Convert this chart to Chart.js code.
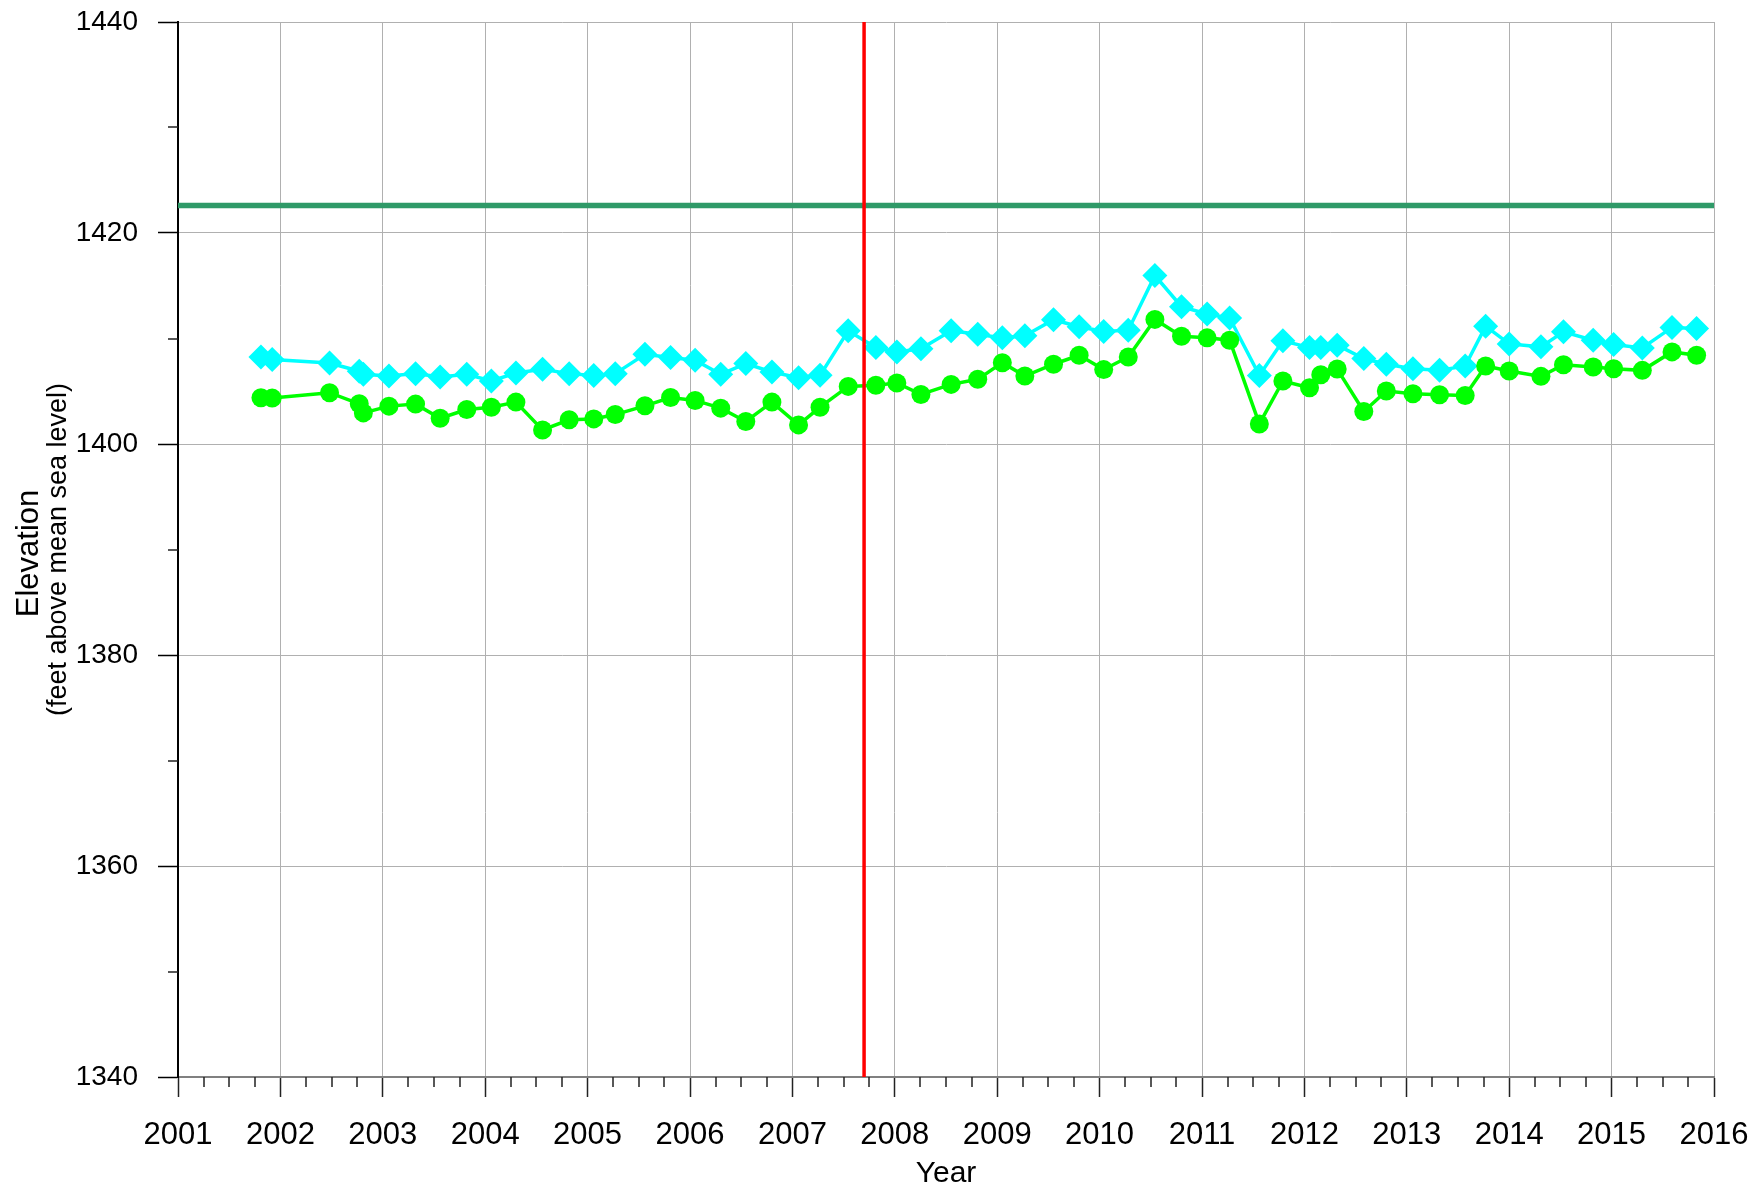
<!DOCTYPE html>
<html>
<head>
<meta charset="utf-8">
<script src="https://cdn.jsdelivr.net/npm/chart.js@4.4.0/dist/chart.umd.min.js"></script>
<style>
html, body { margin: 0; padding: 0; background: #fff; }
#wrap { width: 1754px; height: 1186px; }
</style>
</head>
<body>
<div id="wrap"><canvas id="graph"></canvas></div>
<script>
// sample dates (decimal years), shared by both wells
var years = [
    2001.81, 2001.92, 2002.48, 2002.77, 2002.81, 2003.06, 2003.32, 2003.56, 2003.82, 2004.06,
    2004.30, 2004.56, 2004.82, 2005.06, 2005.27, 2005.56, 2005.81, 2006.05, 2006.30, 2006.545,
    2006.80, 2007.06, 2007.27, 2007.545, 2007.815, 2008.02, 2008.255, 2008.55, 2008.81, 2009.05,
    2009.27, 2009.55, 2009.80, 2010.04, 2010.28, 2010.54, 2010.80, 2011.05, 2011.27, 2011.56,
    2011.79, 2012.05, 2012.16, 2012.32, 2012.58, 2012.80, 2013.06, 2013.32, 2013.57, 2013.77,
    2014.00, 2014.31, 2014.53, 2014.82, 2015.02, 2015.30, 2015.59, 2015.83
];

// cyan diamonds
var cyanLevels = [
    1408.25, 1408.0, 1407.68, 1406.9, 1406.6, 1406.44, 1406.67, 1406.35, 1406.6, 1405.97,
    1406.73, 1407.08, 1406.67, 1406.5, 1406.67, 1408.5, 1408.19, 1407.94, 1406.6, 1407.62,
    1406.83, 1406.29, 1406.51, 1410.73, 1409.14, 1408.73, 1409.02, 1410.73, 1410.41, 1410.06,
    1410.25, 1411.78, 1411.11, 1410.67, 1410.79, 1415.97, 1413.02, 1412.32, 1411.94, 1406.5,
    1409.78, 1409.14, 1409.14, 1409.37, 1408.10, 1407.56, 1407.14, 1406.98, 1407.40, 1411.17,
    1409.49, 1409.21, 1410.63, 1409.84, 1409.43, 1409.11, 1411.05, 1410.95
];

// green circles
var greenLevels = [
    1404.38, 1404.35, 1404.86, 1403.81, 1402.95, 1403.59, 1403.78, 1402.44, 1403.27, 1403.49,
    1403.97, 1401.33, 1402.29, 1402.38, 1402.79, 1403.62, 1404.41, 1404.13, 1403.4, 1402.13,
    1403.97, 1401.81, 1403.49, 1405.46, 1405.56, 1405.78, 1404.70, 1405.65, 1406.13, 1407.71,
    1406.44, 1407.56, 1408.41, 1407.05, 1408.25, 1411.81, 1410.22, 1410.06, 1409.84, 1401.90,
    1405.97, 1405.33, 1406.57, 1407.11, 1403.08, 1405.02, 1404.76, 1404.67, 1404.60, 1407.40,
    1406.92, 1406.41, 1407.52, 1407.30, 1407.14, 1406.98, 1408.73, 1408.41
];

// reference elevation (horizontal) and event date (vertical)
var refLevel = 1422.6;
var refSpan = [2001, 2016];
var eventYear = 2007.7;
var eventSpan = [1340, 1440];

var yearMin = 2001, yearMax = 2016;
var elevMin = 1340, elevMax = 1440;

var FONT = "'Liberation Sans', Arial, sans-serif";

function toPoints(xs, ys) {
    var out = [];
    for (var i = 0; i < xs.length; i++) out.push({ x: xs[i], y: ys[i] });
    return out;
}

// minor tick marks (quarter years, 10 ft)
var minorTicks = {
    id: 'minorTicks',
    afterDraw: function (chart) {
        var ctx = chart.ctx;
        var xs = chart.scales.x, ys = chart.scales.y;
        ctx.save();
        ctx.strokeStyle = '#222';
        ctx.lineWidth = 1.5;
        ctx.beginPath();
        for (var yr = yearMin; yr < yearMax; yr++) {
            for (var q = 1; q < 4; q++) {
                var px = Math.round(xs.getPixelForValue(yr + q / 4));
                ctx.moveTo(px, xs.top);
                ctx.lineTo(px, xs.top + 10);
            }
        }
        for (var v = elevMin + 10; v < elevMax; v += 20) {
            var py = Math.round(ys.getPixelForValue(v));
            ctx.moveTo(ys.right - 10, py);
            ctx.lineTo(ys.right, py);
        }
        ctx.stroke();
        ctx.restore();
    }
};

// two-line y axis title with different sizes
var yTitle = {
    id: 'yTitle',
    afterDraw: function (chart) {
        var ctx = chart.ctx;
        var mid = (chart.chartArea.top + chart.chartArea.bottom) / 2;
        ctx.save();
        ctx.fillStyle = '#000';
        ctx.textAlign = 'center';
        ctx.textBaseline = 'alphabetic';
        ctx.translate(38, mid + 4);
        ctx.rotate(-Math.PI / 2);
        ctx.font = '31px ' + FONT;
        ctx.fillText('Elevation', 0, 0);
        ctx.restore();
        ctx.save();
        ctx.fillStyle = '#000';
        ctx.textAlign = 'center';
        ctx.textBaseline = 'alphabetic';
        ctx.translate(66, mid);
        ctx.rotate(-Math.PI / 2);
        ctx.font = '27px ' + FONT;
        ctx.fillText('(feet above mean sea level)', 0, 0);
        ctx.restore();
    }
};

var ctx = document.getElementById('graph').getContext('2d');
new Chart(ctx, {
    type: 'line',
    data: {
        datasets: [
            {
                data: toPoints([eventYear, eventYear], eventSpan),
                borderColor: '#ff0000',
                borderWidth: 3.5,
                pointRadius: 0,
                order: 0
            },
            {
                data: toPoints(refSpan, [refLevel, refLevel]),
                borderColor: '#2f9a68',
                borderWidth: 5.5,
                pointRadius: 0,
                order: 1
            },
            {
                data: toPoints(years, greenLevels),
                borderColor: '#00ff00',
                backgroundColor: '#00ff00',
                borderWidth: 3.5,
                pointStyle: 'circle',
                pointRadius: 9.5,
                pointBorderWidth: 0,
                order: 2
            },
            {
                data: toPoints(years, cyanLevels),
                borderColor: '#00ffff',
                backgroundColor: '#00ffff',
                borderWidth: 3.5,
                pointStyle: 'rectRot',
                pointRadius: 12.5,
                pointBorderWidth: 0,
                order: 3
            }
        ]
    },
    options: {
        responsive: true,
        maintainAspectRatio: false,
        animation: false,
        devicePixelRatio: 1,
        layout: { padding: { top: 22, right: 40, left: 0, bottom: 0 } },
        plugins: {
            legend: { display: false },
            tooltip: { enabled: false }
        },
        scales: {
            x: {
                type: 'linear',
                min: yearMin,
                max: yearMax,
                afterFit: function (s) {
                    s.height = 109;
                    s.paddingLeft = 0;
                    s.paddingRight = 0;
                },
                ticks: {
                    stepSize: 1,
                    color: '#000',
                    padding: 20,
                    maxRotation: 0,
                    font: { family: FONT, size: 31 },
                    callback: function (v) { return String(v); }
                },
                grid: { color: '#b0b0b0', lineWidth: 1, tickColor: '#222', tickLength: 20, tickWidth: 1.5 },
                border: { color: '#808080', width: 2 },
                title: { display: true, text: 'Year', color: '#000', padding: { top: 0, bottom: -6 }, font: { family: FONT, size: 30 } }
            },
            y: {
                type: 'linear',
                min: elevMin,
                max: elevMax,
                afterFit: function (s) {
                    s.width = 178;
                    s.paddingTop = 0;
                    s.paddingBottom = 0;
                },
                ticks: {
                    stepSize: 20,
                    color: '#000',
                    padding: 20,
                    font: { family: FONT, size: 28 },
                    callback: function (v) { return String(v); }
                },
                grid: { color: '#b0b0b0', lineWidth: 1, tickColor: '#000', tickLength: 20, tickWidth: 1.5 },
                border: { color: '#000', width: 2 }
            }
        }
    },
    plugins: [minorTicks, yTitle]
});
</script>
</body>
</html>
